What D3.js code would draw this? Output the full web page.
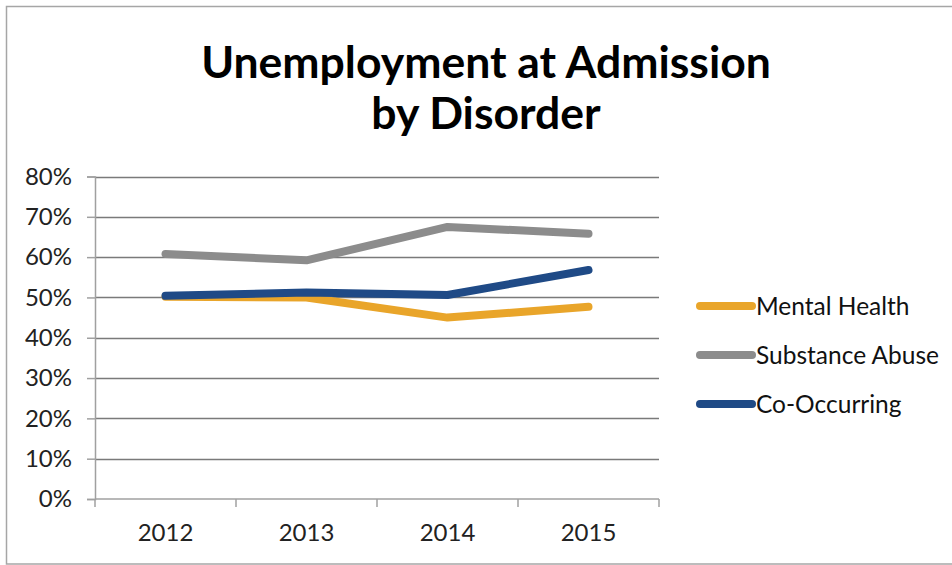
<!DOCTYPE html>
<html>
<head>
<meta charset="utf-8">
<script src="https://cdn.jsdelivr.net/npm/d3@7"></script>
<style>
  html, body { margin: 0; padding: 0; background: #fff; }
  svg { display: block; font-family: Lato, "Noto Sans", sans-serif; }
</style>
</head>
<body>
<svg id="chart" width="952" height="565"></svg>
<script>
// Share of admissions unemployed, by disorder group
const years = ["2012", "2013", "2014", "2015"];
const mentalHealth = [0.502, 0.500, 0.450, 0.477];
const substanceAbuse = [0.608, 0.592, 0.675, 0.658];
const coOccurring = [0.504, 0.512, 0.506, 0.568];
const seriesNames = ["Mental Health", "Substance Abuse", "Co-Occurring"];
const seriesColors = ["#E9A52A", "#8C8C8C", "#1F4A86"];
const yTicks = [0, 0.1, 0.2, 0.3, 0.4, 0.5, 0.6, 0.7, 0.8];
const titleLines = ["Unemployment at Admission", "by Disorder"];

const series = [mentalHealth, substanceAbuse, coOccurring].map((vals, i) => ({
  name: seriesNames[i], color: seriesColors[i], values: vals
}));

const svg = d3.select("#chart");

// outer frame
svg.append("rect")
  .attr("x", 6.5).attr("y", 6.5).attr("width", 960).attr("height", 557.5)
  .attr("fill", "none").attr("stroke", "#a6a6a6").attr("stroke-width", 1.5);

const plot = { left: 95, right: 659, top: 176.5, bottom: 499 };

const x = d3.scaleBand().domain(years).range([plot.left, plot.right]).padding(0);
const y = d3.scaleLinear().domain([0, 0.8]).range([plot.bottom, plot.top]);

// title
const title = svg.append("g").attr("font-weight", "bold").attr("fill", "#000");
title.selectAll("text").data(titleLines).join("text")
  .attr("x", 486).attr("y", (d, i) => 78 + i * 51)
  .attr("text-anchor", "middle")
  .attr("font-size", 44.5)
  .text(d => d);

// horizontal gridlines
svg.append("g").selectAll("line").data(yTicks.filter(t => t > 0)).join("line")
  .attr("x1", plot.left).attr("x2", plot.right)
  .attr("y1", d => Math.round(y(d)) + 0.5).attr("y2", d => Math.round(y(d)) + 0.5)
  .attr("stroke", "#7a7a7a").attr("stroke-width", 1.6);

// y axis
const yAxis = svg.append("g")
  .attr("transform", `translate(${plot.left},0)`)
  .call(d3.axisLeft(y).tickValues(yTicks).tickFormat(d3.format(".0%")).tickSize(8).tickPadding(15));
yAxis.select(".domain").attr("stroke", "#a0a0a0").attr("stroke-width", 1.5);
yAxis.selectAll(".tick line").attr("stroke", "#a0a0a0").attr("stroke-width", 1.5);
yAxis.selectAll(".tick text").attr("font-size", 24).attr("fill", "#222")
  .attr("font-family", "Lato, 'Noto Sans', sans-serif");

// x axis with ticks on category boundaries
const xAxisG = svg.append("g").attr("transform", `translate(0,${plot.bottom})`);
xAxisG.append("line")
  .attr("x1", plot.left).attr("x2", plot.right)
  .attr("stroke", "#a0a0a0").attr("stroke-width", 1.5);
const bounds = years.map(d => x(d)).concat([x(years[years.length - 1]) + x.bandwidth()]);
xAxisG.selectAll("line.tk").data(bounds).join("line").attr("class", "tk")
  .attr("x1", d => d).attr("x2", d => d).attr("y1", 0).attr("y2", 8)
  .attr("stroke", "#a0a0a0").attr("stroke-width", 1.5);
xAxisG.selectAll("text").data(years).join("text")
  .attr("x", d => x(d) + x.bandwidth() / 2).attr("y", 34).attr("dy", "0.35em")
  .attr("text-anchor", "middle").attr("font-size", 24).attr("fill", "#222")
  .text(d => d);

// series lines
const line = d3.line()
  .x((d, i) => x(years[i]) + x.bandwidth() / 2)
  .y(d => y(d));

svg.append("g").selectAll("path").data(series).join("path")
  .attr("d", d => line(d.values))
  .attr("fill", "none")
  .attr("stroke", d => d.color)
  .attr("stroke-width", 8)
  .attr("stroke-linecap", "round")
  .attr("stroke-linejoin", "round");

// legend
const legend = svg.append("g").selectAll("g").data(series).join("g")
  .attr("transform", (d, i) => `translate(700,${306 + i * 49})`);
legend.append("line")
  .attr("x1", 0).attr("x2", 52).attr("y1", 0).attr("y2", 0)
  .attr("stroke", d => d.color).attr("stroke-width", 8).attr("stroke-linecap", "round");
legend.append("text")
  .attr("x", 56).attr("y", 0).attr("dy", "0.35em")
  .attr("font-size", 24.5).attr("fill", "#111")
  .text(d => d.name);
</script>
</body>
</html>
